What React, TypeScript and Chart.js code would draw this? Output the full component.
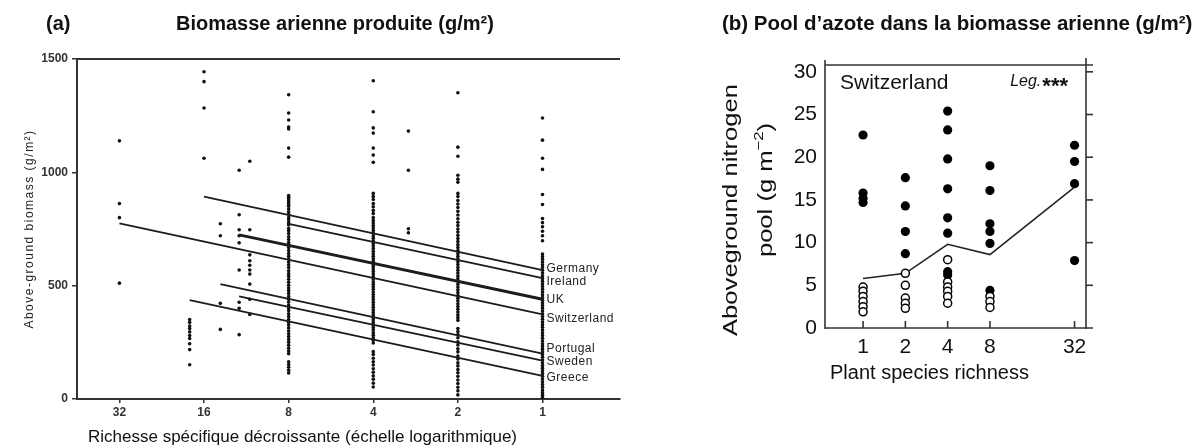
import React, { useEffect, useRef } from 'react';
import { Chart, registerables } from 'chart.js';

Chart.register(...registerables);

// ---------------- Panel (a) data ----------------
const richnessTicksA = [32, 16, 8, 4, 2, 1];
const biomassTicksA = [0, 500, 1000, 1500];

const countries = ['Germany', 'Ireland', 'UK', 'Switzerland', 'Portugal', 'Sweden', 'Greece'];
const fitStartRichness = [16, 8, 12, 32, 14, 12, 18];
const fitStartBiomass = [893, 773, 724, 775, 507, 453, 436];
const fitEndRichness = [1, 1, 1, 1, 1, 1, 1];
const fitEndBiomass = [569, 533, 440, 373, 200, 169, 102];

const biomassAt32 = [1139, 862, 800, 511];
const biomassAt18 = [351, 338, 322, 311, 296, 280, 267, 244, 218, 151];
const biomassAt16 = [1444, 1400, 1284, 1062];
const biomassAt14 = [773, 720, 422, 307];
const biomassAt12 = [1009, 813, 747, 720, 689, 569, 427, 400, 284];
const biomassAt11 = [1049, 747, 636, 610, 590, 569, 551, 507, 440, 373];
const biomassAt8 = [1342, 1262, 1231, 1200, 1191, 1107, 1067, 898, 890, 882, 874, 866, 858, 850, 838, 826, 815, 800, 790, 778, 768, 752, 742, 730, 716, 704, 690, 681, 668, 655, 642, 630, 618, 604, 592, 580, 566, 553, 541, 528, 515, 502, 490, 478, 465, 452, 440, 428, 415, 402, 390, 376, 364, 351, 338, 326, 313, 300, 288, 275, 262, 250, 237, 224, 212, 200, 164, 152, 140, 127, 115];
const biomassAt4 = [1404, 1267, 1196, 1173, 1107, 1076, 1044, 907, 893, 880, 862, 848, 832, 818, 800, 787, 776, 765, 754, 743, 732, 720, 709, 698, 686, 675, 664, 652, 641, 630, 619, 607, 596, 585, 574, 562, 551, 540, 529, 517, 506, 495, 484, 472, 461, 450, 439, 427, 416, 405, 394, 382, 371, 360, 349, 337, 326, 315, 304, 292, 281, 270, 259, 247, 209, 196, 180, 164, 150, 133, 118, 102, 87, 70, 53];
const biomassAt3 = [1182, 1009, 751, 733];
const biomassAt2 = [1351, 1111, 1071, 987, 970, 956, 907, 893, 876, 860, 845, 828, 812, 795, 780, 765, 750, 737, 722, 708, 695, 681, 668, 655, 642, 630, 618, 605, 593, 580, 568, 556, 543, 531, 519, 506, 494, 482, 470, 457, 445, 433, 420, 408, 396, 384, 371, 359, 347, 311, 298, 284, 270, 252, 238, 222, 208, 190, 176, 160, 146, 130, 116, 100, 84, 68, 52, 36, 18];
const biomassAt1 = [1240, 1142, 1062, 1013, 902, 858, 796, 778, 760, 740, 720, 698, 640, 628, 616, 604, 592, 580, 568, 556, 544, 532, 520, 508, 496, 484, 472, 460, 448, 436, 424, 412, 400, 388, 376, 364, 352, 340, 328, 316, 304, 292, 280, 268, 256, 244, 232, 220, 208, 196, 184, 172, 160, 148, 136, 124, 112, 100, 88, 76, 64, 52, 40, 28, 16, 6];

const plotRichnessA = [32, 18, 16, 14, 12, 11, 8, 4, 3, 2, 1];
const plotBiomassA = [biomassAt32, biomassAt18, biomassAt16, biomassAt14, biomassAt12, biomassAt11, biomassAt8, biomassAt4, biomassAt3, biomassAt2, biomassAt1];

// ---------------- Panel (b) data ----------------
const richnessTicksB = [1, 2, 4, 8, 32];
const poolTicksB = [0, 5, 10, 15, 20, 25, 30];
const meanRichnessB = [1, 2, 4, 8, 32];
const meanPoolB = [5.8, 6.4, 9.8, 8.6, 16.5];

const filledPoolAt1 = [22.6, 15.8, 15.2, 14.7];
const filledPoolAt2 = [17.6, 14.3, 11.3, 8.7];
const filledPoolAt4 = [25.4, 23.2, 19.8, 16.3, 12.9, 11.1, 6.6, 6.2];
const filledPoolAt8 = [19.0, 16.1, 12.2, 11.3, 9.9, 4.4];
const filledPoolAt32 = [21.4, 19.5, 16.9, 7.9];
const openPoolAt1 = [4.8, 4.3, 3.7, 3.1, 2.5, 1.9];
const openPoolAt2 = [6.4, 5.0, 3.5, 2.9, 2.3];
const openPoolAt4 = [8.0, 5.4, 4.8, 4.3, 3.7, 2.9];
const openPoolAt8 = [3.7, 3.1, 2.4];
const openPoolAt32: number[] = [];

const filledPoolB = [filledPoolAt1, filledPoolAt2, filledPoolAt4, filledPoolAt8, filledPoolAt32];
const openPoolB = [openPoolAt1, openPoolAt2, openPoolAt4, openPoolAt8, openPoolAt32];

// ---------------- styles ----------------
const FONT = '"Liberation Sans", Arial, Helvetica, sans-serif';
const INK = '#222';
const labelNudgeA = [-1, 4, 0, 4, -5, 1, 2];

function expand(xs: number[], cols: number[][]) {
  const out: { x: number; y: number }[] = [];
  xs.forEach((x, i) => cols[i].forEach((y) => out.push({ x, y })));
  return out;
}

function line(ctx: CanvasRenderingContext2D, x1: number, y1: number, x2: number, y2: number) {
  ctx.beginPath();
  ctx.moveTo(x1, y1);
  ctx.lineTo(x2, y2);
  ctx.stroke();
}

export default function App() {
  const refA = useRef<HTMLCanvasElement>(null);
  const refB = useRef<HTMLCanvasElement>(null);

  useEffect(() => {
    Chart.defaults.font.family = FONT;

    const pluginA = {
      id: 'decorA',
      afterDraw(chart: any) {
        const ctx = chart.ctx as CanvasRenderingContext2D;
        const { left, right, top, bottom } = chart.chartArea;
        const xs = chart.scales.x;
        const ys = chart.scales.y;
        ctx.save();
        ctx.strokeStyle = '#333';
        ctx.lineWidth = 2;
        line(ctx, left - 1, top, right, top);
        ctx.fillStyle = INK;
        ctx.font = `12px ${FONT}`;
        (ctx as any).letterSpacing = '0.5px';
        ctx.textAlign = 'left';
        ctx.textBaseline = 'middle';
        countries.forEach((c, i) => {
          const px = xs.getPixelForValue(fitEndRichness[i]);
          const py = ys.getPixelForValue(fitEndBiomass[i]);
          ctx.fillText(c, px + 4, py + labelNudgeA[i]);
        });
        ctx.translate(30, (top + bottom) / 2);
        ctx.rotate(-Math.PI / 2);
        ctx.textAlign = 'center';
        ctx.font = `12px ${FONT}`;
        (ctx as any).letterSpacing = '1.5px';
        ctx.fillText('Above-ground biomass (g/m²)', 0, 0);
        ctx.restore();
      },
    };

    const fitDatasets = countries.map((c, i) => ({
      type: 'line' as const,
      label: c,
      data: [
        { x: fitStartRichness[i], y: fitStartBiomass[i] },
        { x: fitEndRichness[i], y: fitEndBiomass[i] },
      ],
      borderColor: '#1c1c1c',
      borderWidth: c === 'UK' ? 3 : 1.8,
      pointRadius: 0,
      fill: false,
      order: 0,
    }));

    const chartA = new Chart(refA.current as HTMLCanvasElement, {
      type: 'scatter',
      data: {
        datasets: [
          ...fitDatasets,
          {
            type: 'scatter',
            label: 'plots',
            data: expand(plotRichnessA, plotBiomassA),
            pointRadius: 1.8,
            pointBackgroundColor: '#111',
            backgroundColor: '#111',
            pointBorderWidth: 0,
            borderWidth: 0,
            order: 1,
          } as any,
        ],
      },
      options: {
        animation: false,
        responsive: false,
        layout: { padding: { left: 0, top: 59, right: 20, bottom: 26 } },
        plugins: { legend: { display: false }, tooltip: { enabled: false } },
        scales: {
          x: {
            type: 'logarithmic',
            reverse: true,
            min: 0.53,
            max: 45.3,
            afterBuildTicks: (s: any) => {
              s.ticks = richnessTicksA.map((v) => ({ value: v }));
            },
            afterFit: (s: any) => {
              s.height = 23;
            },
            ticks: {
              autoSkip: false,
              maxRotation: 0,
              padding: 2,
              color: '#333',
              font: { size: 12, weight: 'bold' },
              callback: (v: any) => String(v),
            },
            grid: { drawOnChartArea: false, drawTicks: true, tickLength: 4, color: '#333', lineWidth: 1.5 },
            border: { display: true, color: '#333', width: 2 },
          },
          y: {
            type: 'linear',
            min: 0,
            max: 1500,
            afterBuildTicks: (s: any) => {
              s.ticks = biomassTicksA.map((v) => ({ value: v }));
            },
            afterFit: (s: any) => {
              s.width = 77;
            },
            ticks: { padding: 4, color: '#333', font: { size: 12, weight: 'bold' }, callback: (v: any) => String(v) },
            grid: { drawOnChartArea: false, drawTicks: true, tickLength: 5, color: '#333', lineWidth: 1.5 },
            border: { display: true, color: '#333', width: 2 },
          },
        },
      } as any,
      plugins: [pluginA],
    } as any);

    const pluginB = {
      id: 'decorB',
      afterDraw(chart: any) {
        const ctx = chart.ctx as CanvasRenderingContext2D;
        const { left, right, top, bottom } = chart.chartArea;
        const xs = chart.scales.x;
        const ys = chart.scales.y;
        ctx.save();
        ctx.strokeStyle = '#333';
        ctx.lineWidth = 1.6;
        line(ctx, left, top - 5, left, bottom + 1);
        line(ctx, right, top - 7, right, bottom + 1);
        line(ctx, left, top, right + 7, top);
        line(ctx, left, bottom, right + 7, bottom);
        poolTicksB.forEach((v) => {
          if (v === 0) return;
          const py = ys.getPixelForValue(v);
          line(ctx, right, py, right + 7, py);
        });
        richnessTicksB.forEach((v) => {
          const px = xs.getPixelForValue(v);
          line(ctx, px, bottom, px, bottom - 7);
        });
        ctx.fillStyle = '#111';
        ctx.textBaseline = 'middle';
        ctx.textAlign = 'left';
        ctx.font = `21px ${FONT}`;
        ctx.fillText('Switzerland', left + 15, top + 18);
        ctx.font = `italic 16px ${FONT}`;
        const wLeg = ctx.measureText('Leg.').width;
        ctx.font = `bold 22px ${FONT}`;
        const wStar = ctx.measureText('***').width;
        const x0 = right - 19 - wLeg - wStar;
        ctx.font = `italic 16px ${FONT}`;
        ctx.fillText('Leg.', x0, top + 17);
        ctx.font = `bold 22px ${FONT}`;
        ctx.fillText('***', x0 + wLeg + 1, top + 22);
        ctx.font = `20px ${FONT}`;
        ctx.fillText('Plant species richness', left + 5, bottom + 45);
        const stretch = 1.28;
        ctx.save();
        ctx.translate(left - 94, 210);
        ctx.rotate(-Math.PI / 2);
        ctx.scale(stretch, 1);
        ctx.textAlign = 'center';
        ctx.font = `20px ${FONT}`;
        ctx.fillText('Aboveground nitrogen', 0, 0);
        ctx.restore();
        ctx.save();
        ctx.translate(left - 59, 190);
        ctx.rotate(-Math.PI / 2);
        ctx.scale(stretch, 1);
        ctx.textAlign = 'left';
        const a = 'pool (g m';
        const sup = '\u22122';
        const b = ')';
        ctx.font = `20px ${FONT}`;
        const wa = ctx.measureText(a).width;
        const wb = ctx.measureText(b).width;
        ctx.font = `13px ${FONT}`;
        const ws = ctx.measureText(sup).width;
        const start = -(wa + ws + wb) / 2;
        ctx.font = `20px ${FONT}`;
        ctx.fillText(a, start, 0);
        ctx.fillText(b, start + wa + ws, 0);
        ctx.font = `13px ${FONT}`;
        ctx.fillText(sup, start + wa, -7);
        ctx.restore();
        ctx.restore();
      },
    };

    const chartB = new Chart(refB.current as HTMLCanvasElement, {
      type: 'scatter',
      data: {
        datasets: [
          {
            type: 'scatter',
            label: 'open',
            data: expand(richnessTicksB, openPoolB),
            pointRadius: 4,
            pointBackgroundColor: '#fff',
            pointBorderColor: '#000',
            pointBorderWidth: 1.5,
            backgroundColor: '#fff',
            borderColor: '#000',
            order: 0,
          },
          {
            type: 'line',
            label: 'mean',
            data: meanRichnessB.map((x, i) => ({ x, y: meanPoolB[i] })),
            borderColor: '#222',
            borderWidth: 1.6,
            pointRadius: 0,
            fill: false,
            order: 1,
          },
          {
            type: 'scatter',
            label: 'filled',
            data: expand(richnessTicksB, filledPoolB),
            pointRadius: 4.6,
            pointBackgroundColor: '#000',
            pointBorderWidth: 0,
            backgroundColor: '#000',
            borderWidth: 0,
            order: 2,
          },
        ] as any,
      },
      options: {
        animation: false,
        responsive: false,
        layout: { padding: { left: 0, top: 65, right: 108, bottom: 90 } },
        plugins: { legend: { display: false }, tooltip: { enabled: false } },
        scales: {
          x: {
            type: 'logarithmic',
            min: 0.536,
            max: 38.6,
            afterBuildTicks: (s: any) => {
              s.ticks = richnessTicksB.map((v) => ({ value: v }));
            },
            afterFit: (s: any) => {
              s.height = 30;
            },
            ticks: {
              autoSkip: false,
              maxRotation: 0,
              padding: 7,
              color: '#111',
              font: { size: 21 },
              callback: (v: any) => String(v),
            },
            grid: { display: false, drawTicks: false },
            border: { display: false },
          },
          y: {
            type: 'linear',
            min: 0,
            max: 30.8,
            afterBuildTicks: (s: any) => {
              s.ticks = poolTicksB.map((v) => ({ value: v }));
            },
            afterFit: (s: any) => {
              s.width = 185;
            },
            ticks: { padding: 8, color: '#111', font: { size: 21 }, callback: (v: any) => String(v) },
            grid: { display: false, drawTicks: false },
            border: { display: false },
          },
        },
      } as any,
      plugins: [pluginB],
    } as any);

    return () => {
      chartA.destroy();
      chartB.destroy();
    };
  }, []);

  const title: React.CSSProperties = {
    position: 'absolute',
    font: `bold 20px ${FONT}`,
    lineHeight: '22px',
    color: '#111',
    whiteSpace: 'nowrap',
  };

  return (
    <div style={{ position: 'absolute', left: 0, top: 0, width: 1194, height: 448, background: '#fff', overflow: 'hidden' }}>
      <canvas ref={refA} width={640} height={448} style={{ position: 'absolute', left: 0, top: 0 }} />
      <canvas ref={refB} width={554} height={448} style={{ position: 'absolute', left: 640, top: 0 }} />
      <div style={{ ...title, left: 46, top: 12 }}>(a)</div>
      <div style={{ ...title, left: 176, top: 12 }}>Biomasse arienne produite (g/m²)</div>
      <div style={{ ...title, left: 722, top: 12, fontSize: 20.5 }}>(b) Pool d’azote dans la biomasse arienne (g/m²)</div>
      <div style={{ position: 'absolute', left: 88, top: 427, font: `17px ${FONT}`, lineHeight: '20px', color: '#111', whiteSpace: 'nowrap' }}>
        Richesse spécifique décroissante (échelle logarithmique)
      </div>
    </div>
  );
}
